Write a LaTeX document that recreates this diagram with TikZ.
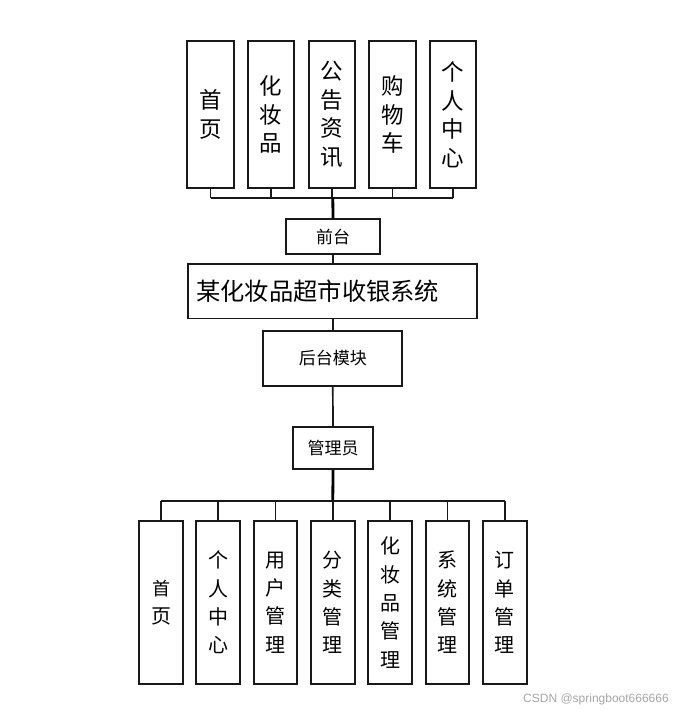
\documentclass[tikz,border=0pt]{standalone}
\usepackage{fontspec}
\newfontfamily\cjk{Noto Sans CJK SC}
\newfontfamily\wmfont{Liberation Sans}
\begin{document}
\begin{tikzpicture}[x=1pt,y=-1pt,
  box/.style={draw=black!90,line width=1.8pt,fill=white,inner sep=0pt,align=center},
  topbox/.style={box,minimum width=46.5pt,minimum height=147pt,font={\cjk\fontsize{22.5}{28.5}\selectfont}},
  botbox/.style={box,minimum width=43.7pt,minimum height=163pt,font={\cjk\fontsize{20}{28.3}\selectfont}},
  midbox/.style={box,font={\cjk\fontsize{17}{20}\selectfont}},
  link/.style={draw=black!90,line width=1.7pt},
  trunk/.style={draw=black,line width=2.8pt}]
\useasboundingbox (0,0) rectangle (682,713);
% top modules
\node[topbox] (t1) at (210.5,114.5) {首\\页};
\node[topbox] (t2) at (271,114.5) {化\\妆\\品};
\node[topbox] (t3) at (332,114.5) {公\\告\\资\\讯};
\node[topbox] (t4) at (392.5,114.5) {购\\物\\车};
\node[topbox] (t5) at (453,114.5) {个\\人\\中\\心};
% middle
\node[midbox,minimum width=93.5pt,minimum height=34.5pt] (qt) at (333,236.6) {前台};
\node[box,minimum width=289pt,minimum height=54.5pt] (sys) at (332.8,291.3) {};
\node[anchor=west,inner sep=0pt,font={\cjk\fontsize{24.3}{26}\selectfont}] (title) at (196,291.3) {某化妆品超市收银系统};
\node[midbox,minimum width=139pt,minimum height=55pt] (ht) at (332.8,358.5) {后台模块};
\node[midbox,minimum width=79.4pt,minimum height=42pt] (gly) at (333,448.3) {管理员};
% bottom modules
\node[botbox] (b1) at (161,602.5) {\fontsize{18}{26.7}\selectfont 首\\页};
\node[botbox] (b2) at (218.2,602.5) {个\\人\\中\\心};
\node[botbox] (b3) at (275.5,602.5) {用\\户\\管\\理};
\node[botbox] (b4) at (332.8,602.5) {分\\类\\管\\理};
\node[botbox] (b5) at (390.2,602.5) {化\\妆\\品\\管\\理};
\node[botbox] (b6) at (447.5,602.5) {系\\统\\管\\理};
\node[botbox] (b7) at (504.8,602.5) {订\\单\\管\\理};
% bus coordinates
\coordinate (tbus) at (332.8,197.7);
\coordinate (bbus) at (332.8,500.7);
% top connectors
\foreach \n in {t1,t2,t3,t4,t5}
  \draw[link] (\n.south) -- (\n.south |- tbus);
\draw[link] (t1.south |- tbus) -- (t5.south |- tbus);
\draw[trunk] (tbus) -- (qt.north);
\draw[link] (qt.south) -- (sys.north -| qt.south);
\draw[link] (sys.south -| ht.north) -- (ht.north);
\draw[link] (ht.south) -- (gly.north);
% bottom connectors
\draw[trunk] (gly.south) -- (bbus);
\draw[link] (b1.north |- bbus) -- (b7.north |- bbus);
\foreach \n in {b1,b2,b3,b4,b5,b6,b7}
  \draw[link] (\n.north |- bbus) -- (\n.north);
% watermark
\node[anchor=west,inner sep=0pt,text=black!35,font={\wmfont\fontsize{12}{14}\selectfont}] (wm) at (523,699) {CSDN @springboot666666};
\end{tikzpicture}
\end{document}
